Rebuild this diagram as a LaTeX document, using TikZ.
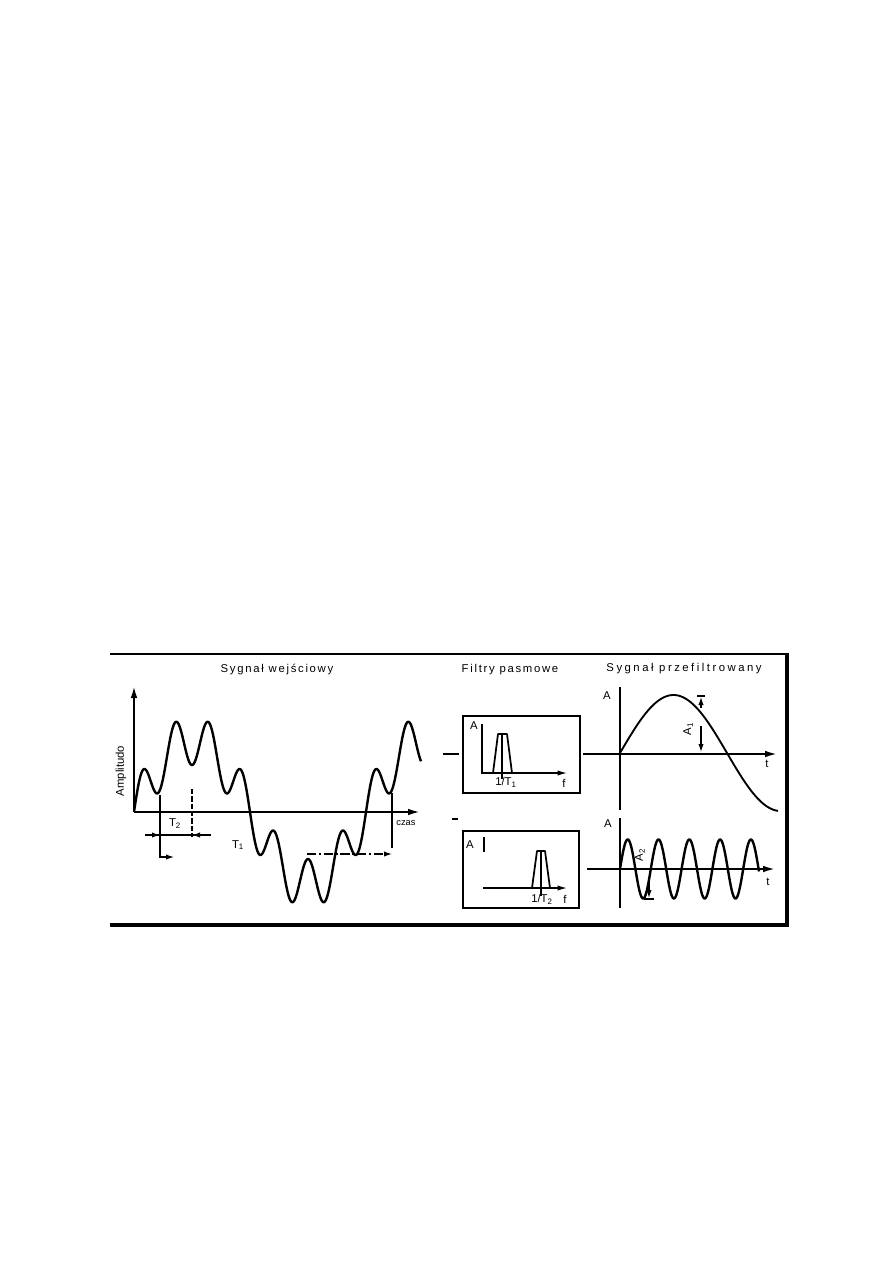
\documentclass[tikz,border=0pt]{standalone}
\usepackage{fontspec}
\setmainfont{Liberation Sans}
\newfontfamily\ttlA[LetterSpace=15]{Liberation Sans}
\newfontfamily\ttlB[LetterSpace=22]{Liberation Sans}
\usetikzlibrary{arrows.meta}
\begin{document}
\begin{tikzpicture}[x=0.75pt,y=-0.75pt,
  font=\fontsize{8.5}{10}\selectfont,
  title/.style={inner sep=0pt, font=\ttlA\fontsize{8.5}{10}\selectfont},
  lbl/.style={inner sep=0pt},
  axisline/.style={line width=1.5pt, -{Latex[length=9pt,width=5pt]}},
  smallaxis/.style={line width=1pt, -{Latex[length=7pt,width=4pt]}},
  sig/.style={line width=1.8pt, line join=round},
  thinsig/.style={line width=1.4pt, line join=round},
  fbox/.style={draw, line width=1.3pt, inner sep=0pt, minimum width=87.5pt, minimum height=57.75pt},
  conn/.style={line width=1.4pt},
  dim/.style={line width=0.9pt},
  dimarrow/.style={line width=0.9pt, -{Latex[length=6pt,width=4pt]}},
  band/.style={line width=1.3pt, line join=round}]
\useasboundingbox (0,0) rectangle (893,1263);
\fill[white] (0,0) rectangle (893,1263);

% frame
\draw[line width=1.3pt] (110,654) -- (786,654);
\draw[line width=2.4pt] (787,653) -- (787,926);
\draw[line width=2.4pt] (110,925) -- (789,925);

% titles
\node[title] (tin) at (277,669) {Sygnał wejściowy};
\node[title] (tfil) at (510,670) {Filtry pasmowe};
\node[title, font=\ttlB\fontsize{8.5}{10}\selectfont] (tout) at (684,669) {Sygnał przefiltrowany};

% ---------- left panel: input signal ----------
\coordinate (o1) at (134,812);
\draw[axisline] (o1) -- (134,686);
\draw[axisline] (o1) -- (420,812);
\node[lbl, rotate=90] (amp) at (121,771) {Amplitudo};
\node[lbl, font=\fontsize{7}{8}\selectfont] (czas) at (406,823) {czas};
\draw[sig] plot[domain=134:421, samples=400, smooth]
  (\x, {812 - 72*sin(1.551724*(\x-134)) - 25*sin(10.862069*(\x-134))});

% T2 dimension
\draw[dim] (160,795) -- (160,858);
\draw[dim, dash pattern=on 4pt off 1.5pt] (192,789) -- (192,837);
\draw[dim] (145,835) -- (211,835);
\draw[dimarrow] (145,835) -- (160,835);
\draw[dimarrow] (211,835) -- (192,835);
\node[lbl] (lt2) at (175,824) {T\textsubscript{2}};
% T1 dimension
\node[lbl] (lt1) at (238,845) {T\textsubscript{1}};
\draw[dimarrow] (160,857) -- (174,857);
\draw[dim] (392,793) -- (392,848);
\draw[dimarrow, dash pattern=on 7pt off 2pt on 1.5pt off 2pt] (307,854) -- (392,854);

% ---------- middle panel: band-pass filters ----------
\node[fbox] (f1) at (521.5,754.5) {};
\draw[conn] (443,754) -- (459,754);
\draw[smallaxis] (482,724) -- (482,773) -- (567,773);
\draw[band] (493,773) -- (498,734) -- (507,734) -- (512,773);
\draw[line width=0.8pt] (502,734) -- (502,779);
\node[lbl] (a1) at (474,726) {A};
\node[lbl] (ft1) at (506,782) {1/T\textsubscript{1}};
\node[lbl] (ff1) at (564,783) {f};

\node[fbox] (f2) at (521,869.5) {};
\draw[conn] (452,819) -- (458,819);
\draw[line width=1pt] (484,837) -- (484,852);
\draw[smallaxis] (483,888) -- (567,888);
\draw[band] (532,888) -- (537,851) -- (545,851) -- (550,888);
\draw[line width=0.8pt] (541,851) -- (541,896);
\node[lbl] (a2) at (470,845) {A};
\node[lbl] (ft2) at (542,899) {1/T\textsubscript{2}};
\node[lbl] (ff2) at (565,899) {f};

% ---------- right panel: filtered signals ----------
\draw[conn, -{Latex[length=9pt,width=5pt]}] (583,754) -- (777,754);
\draw[conn] (620,810) -- (620,687);
\node[lbl] (ya1) at (607,696) {A};
\node[lbl] (xt1) at (767,764) {t};
\draw[thinsig] plot[domain=620:778, samples=160, smooth]
  (\x, {753 - 58*sin(1.682243*(\x-620))});
\draw[dim] (697,696) -- (705,696);
\draw[dimarrow] (701,708) -- (701,697);
\draw[dimarrow] (701,726) -- (701,752);
\node[lbl, rotate=90] (la1) at (688,729) {A\textsubscript{1}};

\draw[conn, -{Latex[length=9pt,width=5pt]}] (587,869) -- (775,869);
\draw[conn] (620,908) -- (620,818);
\node[lbl] (ya2) at (608,824) {A};
\node[lbl] (xt2) at (768,882) {t};
\draw[sig] plot[domain=620:759, samples=300, smooth]
  (\x, {869 - 29.5*sin(11.688312*(\x-620))});
\node[lbl, rotate=90] (la2) at (640,855) {A\textsubscript{2}};
\draw[dim] (644,899) -- (654,899);
\draw[dimarrow] (649,877) -- (649,898);
\end{tikzpicture}
\end{document}
